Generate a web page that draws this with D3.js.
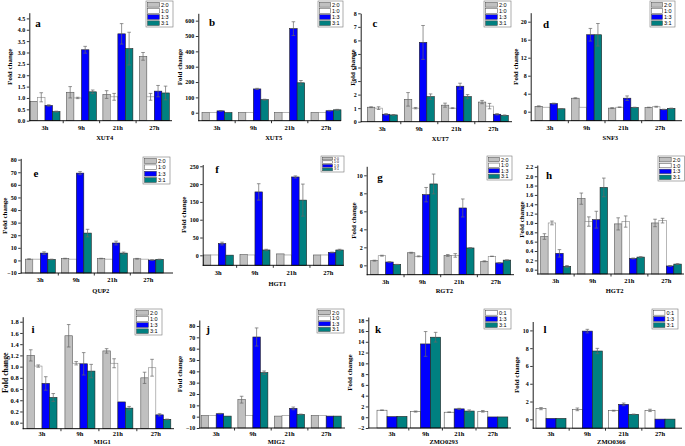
<!DOCTYPE html>
<html><head><meta charset="utf-8">
<script src="https://cdn.jsdelivr.net/npm/d3@7"></script>
<style>body{margin:0;background:#fff}svg{display:block}</style>
</head><body>
<svg id="c" width="685" height="446"></svg>
<script>
// ---------- DATA ----------
const times = ["3h", "9h", "21h", "27h"];
const ratios4 = ["2:0", "1:0", "1:3", "3:1"];
const ratios3 = ["0:1", "1:3", "3:1"];
// rows = ratios, columns = times
const xut4Mean = [[0.85, 1.25, 1.15, 2.83], [1.03, 1.00, 1.05, 1.05], [0.67, 3.12, 3.82, 1.30], [0.40, 1.27, 3.17, 1.22]];
const xut4Err  = [[0.00, 0.25, 0.17, 0.17], [0.20, 0.03, 0.15, 0.15], [0.03, 0.15, 0.45, 0.25], [0.02, 0.08, 0.72, 0.30]];
const xut4Ticks = [0, 0.5, 1, 1.5, 2, 2.5, 3, 3.5, 4, 4.5];

const xut5Mean = [[1, 1, 1, 1], [1, 1, 1, 1], [12, 155, 548, 13], [1, 85, 195, 19]];
const xut5Err  = [[0, 0, 0, 0], [0, 0, 0, 0], [2, 4, 45, 2], [0, 3, 15, 3]];
const xut5Ticks = [0, 100, 200, 300, 400, 500, 600];

const xut7Mean = [[1.07, 1.65, 1.22, 1.45], [1.0, 1.0, 1.0, 1.15], [0.55, 5.85, 2.62, 0.55], [0.50, 1.85, 1.85, 0.47]];
const xut7Err  = [[0.03, 0.50, 0.15, 0.12], [0.10, 0.05, 0.03, 0.20], [0.05, 1.25, 0.22, 0.05], [0.03, 0.20, 0.15, 0.03]];
const xut7Ticks = [0, 1, 2, 3, 4, 5, 6, 7, 8];

const snf3Mean = [[1.2, 3.0, 0.8, 0.95], [1.0, 1.0, 1.0, 1.1], [1.8, 17.1, 3.0, 0.5], [0.65, 17.1, 0.95, 0.75]];
const snf3Err  = [[0.1, 0.1, 0.1, 0.05], [0, 0, 0.05, 0.1], [0.1, 1.4, 0.5, 0.05], [0.05, 2.5, 0.05, 0.05]];
const snf3Ticks = [0, 4, 8, 12, 16, 20];

const qup2Mean = [[1, 1.5, 1.5, 1.3], [1, 1, 1, 1], [5.8, 69.3, 13.8, 0.3], [0.8, 21.7, 5.8, 0.8]];
const qup2Err  = [[0.3, 0.2, 0.2, 0.3], [0, 0, 0, 0], [1, 1.2, 1.5, 0.2], [0.2, 3, 0.8, 0.2]];
const qup2Ticks = [-10, 0, 10, 20, 30, 40, 50, 60, 70, 80];

const hgt1Mean = [[1, 2, 4, 1], [1, 1, 1, 1], [33, 178, 220, 8], [0.5, 15, 155, 15]];
const hgt1Err  = [[0, 0, 0, 0], [0, 0, 0, 0], [4, 23, 3, 1], [0, 2, 45, 2]];
const hgt1Ticks = [0, 50, 100, 150, 200, 250];

const rgt2Mean = [[0.52, 1.4, 1.1, 0.45], [1.07, 1.0, 1.1, 1.0], [0.37, 7.85, 6.37, 0.27], [0.1, 9.04, 1.93, 0.58]];
const rgt2Err  = [[0.05, 0.05, 0.1, 0.05], [0.05, 0.05, 0.2, 0.02], [0.03, 0.8, 1.0, 0.02], [0.01, 1.1, 0.02, 0.02]];
const rgt2Ticks = [0, 2, 4, 6, 8, 10];

const hgt2Mean = [[0.71, 1.52, 0.98, 1.0], [1.0, 1.03, 1.03, 1.05], [0.35, 1.07, 0.24, 0.08], [0.07, 1.76, 0.27, 0.12]];
const hgt2Err  = [[0.06, 0.12, 0.13, 0.08], [0.04, 0.1, 0.12, 0.05], [0.08, 0.18, 0.01, 0.01], [0.02, 0.2, 0.01, 0.01]];
const hgt2Ticks = [0, 0.2, 0.4, 0.6, 0.8, 1.0, 1.2, 1.4, 1.6, 1.8, 2.0, 2.2];

const mig1Mean = [[1.2, 1.55, 1.28, 0.8], [1.01, 1.06, 1.06, 0.98], [0.7, 1.05, 0.37, 0.14], [0.45, 0.92, 0.26, 0.06]];
const mig1Err  = [[0.1, 0.2, 0.04, 0.1], [0.02, 0.03, 0.08, 0.15], [0.12, 0.2, 0, 0.02], [0.07, 0.12, 0.03, 0.005]];
const mig1Ticks = [0, 0.2, 0.4, 0.6, 0.8, 1.0, 1.2, 1.4, 1.6, 1.8];

const mig2Mean = [[1, 15, 0.5, 1], [1, 1, 1, 1], [2.6, 70.3, 7.3, 0.5], [0.5, 38.8, 2, 0.5]];
const mig2Err  = [[0, 3, 0, 0], [0, 0, 0, 0], [0.3, 8, 1.2, 0], [0, 1.5, 0.3, 0]];
const mig2Ticks = [-10, 0, 10, 20, 30, 40, 50, 60, 70, 80];

const zmo0293Mean = [[1.3, 1.05, 0.93, 1.1], [0.1, 13.6, 1.55, 0.05], [0.15, 14.85, 1.15, 0.05]];
const zmo0293Err  = [[0.05, 0.1, 0.05, 0.15], [0, 2.3, 0.1, 0], [0, 0.9, 0.2, 0]];
const zmo0293Ticks = [-2, 0, 2, 4, 6, 8, 10, 12, 14, 16, 18];

const zmo0366Mean = [[1.2, 1.12, 0.97, 1.0], [0.1, 9.92, 1.68, 0.02], [0.1, 7.68, 0.56, 0.02]];
const zmo0366Err  = [[0.12, 0.15, 0.05, 0.13], [0, 0.2, 0.15, 0], [0, 0.3, 0.03, 0]];
const zmo0366Ticks = [0, 2, 4, 6, 8, 10];

// ---------- STYLE / LAYOUT ----------
const colors = {"2:0": "#c0c0c0", "1:0": "#ffffff", "0:1": "#ffffff", "1:3": "#0000ff", "3:1": "#008080"};
const strokes = {"2:0": "#555", "1:0": "#888", "0:1": "#555", "1:3": "#222", "3:1": "#222"};

const panels = [
  {letter: "a", gene: "XUT4", series: ratios4, mean: xut4Mean, err: xut4Err, ticks: xut4Ticks, fmt: ".1f",
   domain: [0, 4.75], yr: [120.7, 12.7], xr: [29.3, 172], c: [45, 154.3], leg: [146, 1, 27, 26], lp: [38, 23], ylx: 9, xo: 9.5, go: 19},
  {letter: "b", gene: "XUT5", series: ratios4, mean: xut5Mean, err: xut5Err, ticks: xut5Ticks, fmt: "d",
   domain: [-52, 648], yr: [120.7, 13.3], xr: [198.3, 341], c: [217, 326], leg: [318, 1, 25, 26], lp: [212, 22], ylx: 179, xo: 9.5, go: 19},
  {letter: "c", gene: "XUT7", series: ratios4, mean: xut7Mean, err: xut7Err, ticks: xut7Ticks, fmt: "d",
   domain: [0, 8], yr: [121.7, 13.3], xr: [360.7, 512], c: [382.3, 493.3], leg: [484, 1, 27, 26], lp: [375, 23], ylx: 352, xo: 9.5, go: 19},
  {letter: "d", gene: "SNF3", series: ratios4, mean: snf3Mean, err: snf3Err, ticks: snf3Ticks, fmt: "d",
   domain: [-2, 22], yr: [120.7, 12.7], xr: [530.7, 682], c: [550, 660], leg: [650, 1, 25, 26], lp: [546, 24], ylx: 515, xo: 9.5, go: 19},
  {letter: "e", gene: "QUP2", series: ratios4, mean: qup2Mean, err: qup2Err, ticks: qup2Ticks, fmt: "d",
   domain: [-10, 81], yr: [273, 158.4], xr: [20.7, 173], c: [40.3, 148.3], leg: [143, 157, 27, 27], lp: [36, 173], ylx: 4.5, xo: 9, go: 20},
  {letter: "f", gene: "HGT1", series: ratios4, mean: hgt1Mean, err: hgt1Err, ticks: hgt1Ticks, fmt: "d",
   domain: [-28, 255], yr: [265.3, 164.5], xr: [202.7, 344], c: [218.3, 328.3], leg: [321, 156, 23, 16], lp: [217, 169], ylx: 183, xo: 9.5, go: 20.5},
  {letter: "g", gene: "RGT2", series: ratios4, mean: rgt2Mean, err: rgt2Err, ticks: rgt2Ticks, fmt: "d",
   domain: [-1.04, 11], yr: [274.7, 166.3], xr: [366.7, 514], c: [385.7, 495.7], leg: [487, 156, 25, 24], lp: [380, 177], ylx: 353, xo: 9, go: 18.5},
  {letter: "h", gene: "HGT2", series: ratios4, mean: hgt2Mean, err: hgt2Err, ticks: hgt2Ticks, fmt: ".1f",
   domain: [-0.092, 2.24], yr: [274, 165], xr: [537.3, 684], c: [555.7, 666.3], leg: [658, 156, 26.5, 25], lp: [549, 175], ylx: 521, xo: 9, go: 18.5},
  {letter: "i", gene: "MIG1", series: ratios4, mean: mig1Mean, err: mig1Err, ticks: mig1Ticks, fmt: ".1f",
   domain: [-0.107, 1.89], yr: [428.7, 316.7], xr: [22.7, 174], c: [42, 155.8], leg: [135, 309, 27, 26], lp: [33, 329], ylx: 5, xo: 7.5, go: 15.3},
  {letter: "j", gene: "MIG2", series: ratios4, mean: mig2Mean, err: mig2Err, ticks: mig2Ticks, fmt: "d",
   domain: [-10, 85.3], yr: [428, 320], xr: [199.3, 345], c: [216.2, 326.2], leg: [317, 309, 27, 24], lp: [208, 329], ylx: 179.5, xo: 7.5, go: 15.8},
  {letter: "k", gene: "ZMO0293", series: ratios3, mean: zmo0293Mean, err: zmo0293Err, ticks: zmo0293Ticks, fmt: "d",
   domain: [-2, 18.6], yr: [428, 317], xr: [368.3, 511], c: [392, 492.8], leg: [484, 309, 27, 20], lp: [378, 329], ylx: 349.5, xo: 7.5, go: 15.8},
  {letter: "l", gene: "ZMO0366", series: ratios3, mean: zmo0366Mean, err: zmo0366Err, ticks: zmo0366Ticks, fmt: "d",
   domain: [-1, 11], yr: [428.2, 321.5], xr: [532.7, 682], c: [551, 660], leg: [652, 309, 26, 20], lp: [545, 329], ylx: 516, xo: 7.5, go: 15.6}
];

const SERIF = "'Liberation Serif','Times New Roman',serif";
const SANS = "'Liberation Sans',Arial,sans-serif";
const svg = d3.select("#c");

panels.forEach(p => {
  const g = svg.append("g").attr("class", "panel-" + p.letter);
  const y = d3.scaleLinear().domain(p.domain).range(p.yr);
  const s = (p.c[1] - p.c[0]) / 3;
  const pin = 1 - 30 / s;
  const x0 = d3.scaleBand().domain(times).range([p.c[0] - s / 2, p.c[1] + s / 2])
    .paddingInner(pin).paddingOuter(pin / 2);
  const x1 = d3.scaleBand().domain(p.series).range([0, x0.bandwidth()]);
  const base = y(p.domain[0]);

  const cells = [];
  p.series.forEach((sr, si) => times.forEach((t, ti) => {
    cells.push({sr, t, v: p.mean[si][ti], e: p.err[si][ti]});
  }));

  // bars
  g.append("g").selectAll("rect").data(cells).join("rect")
    .attr("x", d => x0(d.t) + x1(d.sr))
    .attr("width", x1.bandwidth())
    .attr("y", d => y(d.v))
    .attr("height", d => base - y(d.v))
    .attr("fill", d => colors[d.sr])
    .attr("stroke", d => strokes[d.sr])
    .attr("stroke-width", 0.6);

  // error bars
  const eg = g.append("g").attr("stroke", "#666").attr("stroke-width", 0.7).attr("fill", "none");
  cells.filter(d => d.e > 0).forEach(d => {
    const cx = x0(d.t) + x1(d.sr) + x1.bandwidth() / 2;
    const yt = y(d.v + d.e), yb = y(d.v - d.e);
    eg.append("line").attr("x1", cx).attr("x2", cx).attr("y1", yt).attr("y2", yb);
    eg.append("line").attr("x1", cx - 1.8).attr("x2", cx + 1.8).attr("y1", yt).attr("y2", yt);
    eg.append("line").attr("x1", cx - 1.8).attr("x2", cx + 1.8).attr("y1", yb).attr("y2", yb);
  });

  // y axis
  const ya = g.append("g").attr("transform", `translate(${p.xr[0]},0)`)
    .call(d3.axisLeft(y).tickValues(p.ticks).tickFormat(d3.format(p.fmt)).tickSize(2.5).tickSizeOuter(0).tickPadding(1.5));
  ya.select(".domain").attr("stroke", "#000").attr("stroke-width", 0.9);
  ya.selectAll(".tick line").attr("stroke", "#000").attr("stroke-width", 0.8);
  ya.selectAll(".tick text").attr("font-family", SERIF).attr("font-weight", "bold")
    .attr("font-size", p.letter === "i" ? 6.5 : 6).attr("fill", "#000");

  // x axis
  const xg = g.append("g");
  xg.append("line").attr("x1", p.xr[0]).attr("x2", p.xr[1]).attr("y1", base).attr("y2", base)
    .attr("stroke", "#000").attr("stroke-width", 0.9);
  times.slice(0, -1).forEach(t => {
    const bx = x0(t) + x0.bandwidth() / 2 + s / 2;
    xg.append("line").attr("x1", bx).attr("x2", bx).attr("y1", base).attr("y2", base + 2.5)
      .attr("stroke", "#000").attr("stroke-width", 0.8);
  });
  xg.selectAll("text").data(times).join("text")
    .attr("x", t => x0(t) + x0.bandwidth() / 2)
    .attr("y", base + p.xo)
    .attr("text-anchor", "middle")
    .attr("font-family", SERIF).attr("font-weight", "bold").attr("font-size", 6.5)
    .text(t => t);

  // x label (gene)
  g.append("text").attr("x", (p.xr[0] + p.xr[1]) / 2 + 4).attr("y", base + p.go)
    .attr("text-anchor", "middle").attr("font-family", SERIF).attr("font-weight", "bold")
    .attr("font-size", 6.5).text(p.gene);

  // y label
  const ym = (p.yr[0] + p.yr[1]) / 2;
  g.append("text").attr("transform", `translate(${p.ylx + 2.5},${ym}) rotate(-90)`)
    .attr("text-anchor", "middle").attr("font-family", SERIF).attr("font-weight", "bold")
    .attr("font-size", p.letter === "i" ? 7.8 : 7).text("Fold change");

  // panel letter
  g.append("text").attr("x", p.lp[0]).attr("y", p.lp[1] + 3.6)
    .attr("text-anchor", "middle").attr("font-family", SERIF).attr("font-weight", "bold")
    .attr("font-size", 11).text(p.letter);

  // legend
  const [lx, ly, lw, lh] = p.leg;
  const lg = g.append("g");
  lg.append("rect").attr("x", lx).attr("y", ly).attr("width", lw).attr("height", lh)
    .attr("fill", "#fff").attr("stroke", "#777").attr("stroke-width", 0.6);
  const eh = (lh - 1.5) / p.series.length;
  p.series.forEach((sr, i) => {
    const ey = ly + 0.75 + i * eh;
    lg.append("rect").attr("x", lx + 1.5).attr("y", ey + eh * 0.12).attr("width", lw * 0.44)
      .attr("height", eh * 0.76).attr("fill", colors[sr]).attr("stroke", "#444").attr("stroke-width", 0.5);
    lg.append("text").attr("x", lx + 1.5 + lw * 0.44 + 1.5).attr("y", ey + eh / 2)
      .attr("dominant-baseline", "central").attr("font-family", SANS)
      .attr("font-size", Math.min(5.5, eh * 0.95)).text(sr);
  });
});
</script>
</body></html>
